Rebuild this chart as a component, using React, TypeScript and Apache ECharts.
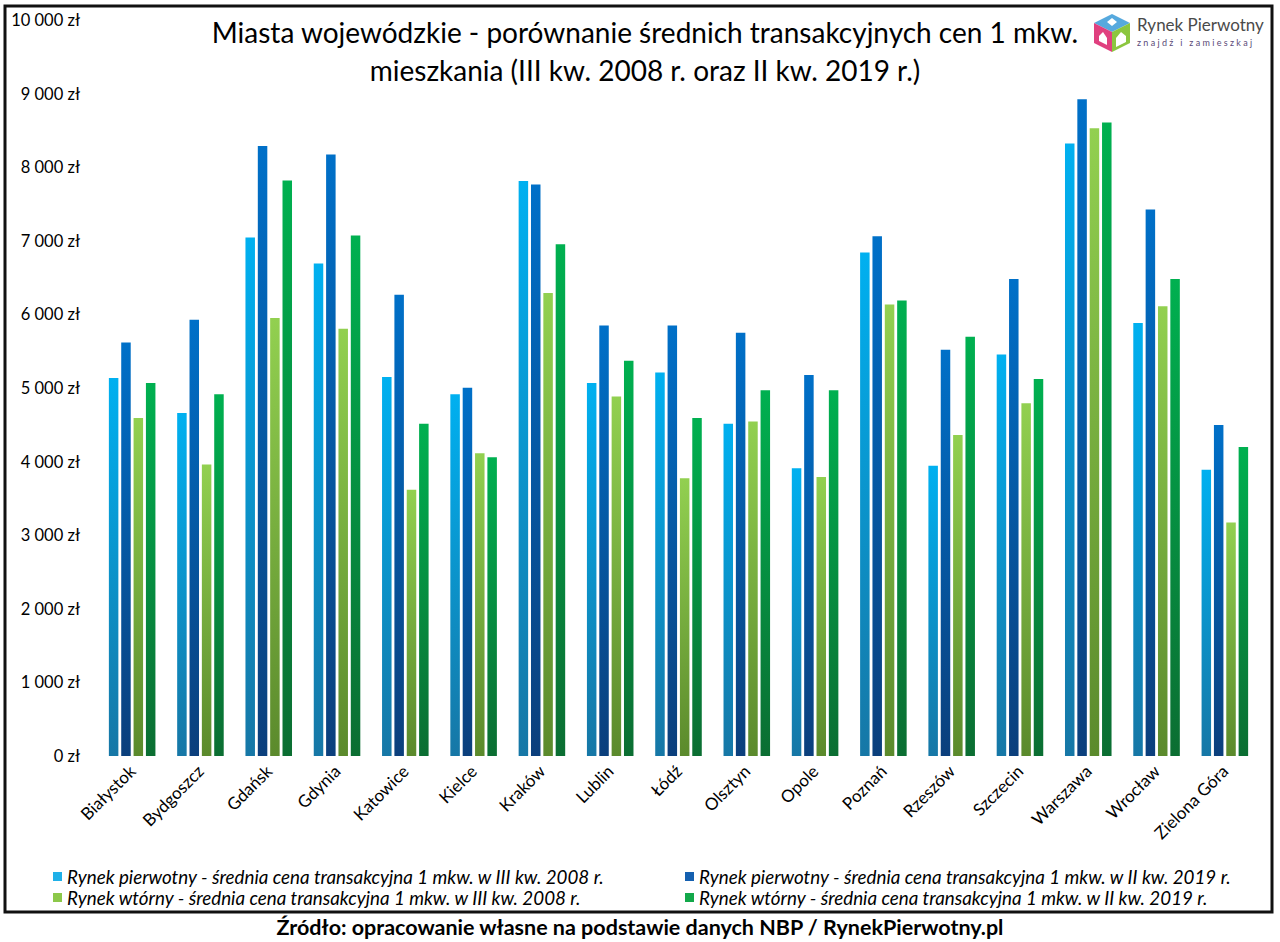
import React, { useEffect, useRef } from "react";
import * as echarts from "echarts";

const cities = [
  "Białystok", "Bydgoszcz", "Gdańsk", "Gdynia", "Katowice", "Kielce", "Kraków", "Lublin",
  "Łódź", "Olsztyn", "Opole", "Poznań", "Rzeszów", "Szczecin", "Warszawa", "Wrocław", "Zielona Góra",
];

const primary2008 = [5136, 4660, 7044, 6692, 5151, 4914, 7814, 5068, 5212, 4514, 3908, 6842, 3944, 5454, 8323, 5884, 3889];
const primary2019 = [5618, 5928, 8288, 8171, 6268, 5005, 7765, 5849, 5849, 5751, 5175, 7061, 5521, 6480, 8924, 7425, 4496];
const secondary2008 = [4592, 3962, 5951, 5806, 3617, 4114, 6291, 4884, 3774, 4545, 3792, 6134, 4363, 4793, 8530, 6110, 3174];
const secondary2019 = [5068, 4914, 7820, 7073, 4514, 4060, 6953, 5370, 4592, 4969, 4969, 6189, 5697, 5121, 8609, 6480, 4198];

const seriesNames = [
  "Rynek pierwotny - średnia cena transakcyjna 1 mkw. w III kw. 2008 r.",
  "Rynek pierwotny - średnia cena transakcyjna 1 mkw. w II kw. 2019 r.",
  "Rynek wtórny - średnia cena transakcyjna 1 mkw. w III kw. 2008 r.",
  "Rynek wtórny - średnia cena transakcyjna 1 mkw. w II kw. 2019 r.",
];

const titleLines = [
  "Miasta wojewódzkie - porównanie średnich transakcyjnych cen 1 mkw.",
  "mieszkania (III kw. 2008 r. oraz II kw. 2019 r.)",
];
const sourceText = "Źródło: opracowanie własne na podstawie danych NBP / RynekPierwotny.pl";

const topColors = ["#00b0f0", "#0070c8", "#92d050", "#00b050"];
const bottomColors = ["#1677a6", "#0b3f7c", "#5b8a2c", "#0b6e32"];
const legendColors = ["#1fb0e8", "#1560b0", "#8cc84a", "#12a84a"];

export default function App() {
  const ref = useRef<HTMLDivElement>(null);
  useEffect(() => {
    document.body.style.margin = "0";
    if (!ref.current) return;
    const chart = echarts.init(ref.current, null, { renderer: "svg" });
    const datasets = [primary2008, primary2019, secondary2008, secondary2019];
    const series = datasets.map((d, i) => ({
      type: "bar",
      name: seriesNames[i],
      data: d,
      barWidth: 9.5,
      barGap: "30%",
      itemStyle: {
        color: new echarts.graphic.LinearGradient(0, 0, 0, 1, [
          { offset: 0, color: topColors[i] },
          { offset: 1, color: bottomColors[i] },
        ]),
      },
    }));
    const legendText = { fontFamily: "Lato", fontStyle: "italic", fontSize: 18.8, color: "#000" };
    chart.setOption({
      animation: false,
      backgroundColor: "#ffffff",
      textStyle: { fontFamily: "Lato" },
      title: [
        {
          text: titleLines.join("\n"),
          left: 640,
          textAlign: "center",
          top: 8,
          textStyle: { fontFamily: "Lato", fontSize: 28, fontWeight: "normal", color: "#000", lineHeight: 38 },
        },
      ],
      legend: [
        {
          data: [0, 2].map((i) => ({ name: seriesNames[i], itemStyle: { color: legendColors[i] } })),
          orient: "vertical",
          left: 48,
          top: 862,
          itemWidth: 9,
          itemHeight: 9,
          itemGap: 2,
          icon: "rect",
          textStyle: legendText,
          selectedMode: false,
        },
        {
          data: [1, 3].map((i) => ({ name: seriesNames[i], itemStyle: { color: legendColors[i] } })),
          orient: "vertical",
          left: 680,
          top: 862,
          itemWidth: 9,
          itemHeight: 9,
          itemGap: 2,
          icon: "rect",
          textStyle: legendText,
          selectedMode: false,
        },
      ],
      grid: { left: 98, right: 21, top: 20, bottom: 942 - 756, containLabel: false },
      xAxis: {
        type: "category",
        data: cities,
        axisLine: { show: false },
        axisTick: { show: false },
        axisLabel: { rotate: 45, fontSize: 17, color: "#000", margin: 12, interval: 0 },
      },
      yAxis: {
        type: "value",
        min: 0,
        max: 10000,
        interval: 1000,
        splitLine: { show: false },
        axisLine: { show: false },
        axisTick: { show: false },
        axisLabel: {
          fontSize: 16.5,
          color: "#000",
          margin: 18,
          formatter: (v: number) => (v >= 1000 ? `${Math.floor(v / 1000)} 000 zł` : `${v} zł`),
        },
      },
      series,
      graphic: [
        {
          type: "rect",
          shape: { x: 5, y: 6, width: 1267, height: 906 },
          style: { fill: "none", stroke: "#111", lineWidth: 3 },
          silent: true,
        },
        {
          type: "text",
          x: 640,
          y: 927,
          style: {
            text: sourceText,
            font: "bold 21.5px Lato",
            fill: "#000",
            align: "center",
            verticalAlign: "middle",
          },
        },
        {
          type: "group",
          left: 1094,
          top: 14,
          children: [
            { type: "polygon", shape: { points: [[18, 0], [36, 9], [18, 18], [0, 9]] }, style: { fill: "#56a9de" } },
            { type: "polygon", shape: { points: [[0, 9], [18, 18], [18, 38], [0, 29]] }, style: { fill: "#e0407f" } },
            { type: "polygon", shape: { points: [[18, 18], [36, 9], [36, 29], [18, 38]] }, style: { fill: "#8cc63f" } },
            { type: "polygon", shape: { points: [[5, 22], [9, 18], [13, 24], [13, 31], [5, 27]] }, style: { fill: "#ffffff" } },
            { type: "polygon", shape: { points: [[22, 24], [27, 18], [32, 22], [32, 28], [22, 33]] }, style: { fill: "#ffffff" } },
            { type: "polygon", shape: { points: [[13, 8], [18, 4], [23, 8], [18, 12]] }, style: { fill: "#ffffff" } },
          ],
        },
        {
          type: "text",
          left: 1137,
          top: 16,
          style: { text: "Rynek Pierwotny", font: "17px Lato", fill: "#4a4a4a" },
        },
        {
          type: "text",
          left: 1137,
          top: 38,
          style: { text: "z n a j d ź   i   z a m i e s z k a j", font: "9px Lato", fill: "#5a4a78" },
        },
      ],
    });
    return () => chart.dispose();
  }, []);
  return <div ref={ref} style={{ width: 1280, height: 942 }} />;
}
